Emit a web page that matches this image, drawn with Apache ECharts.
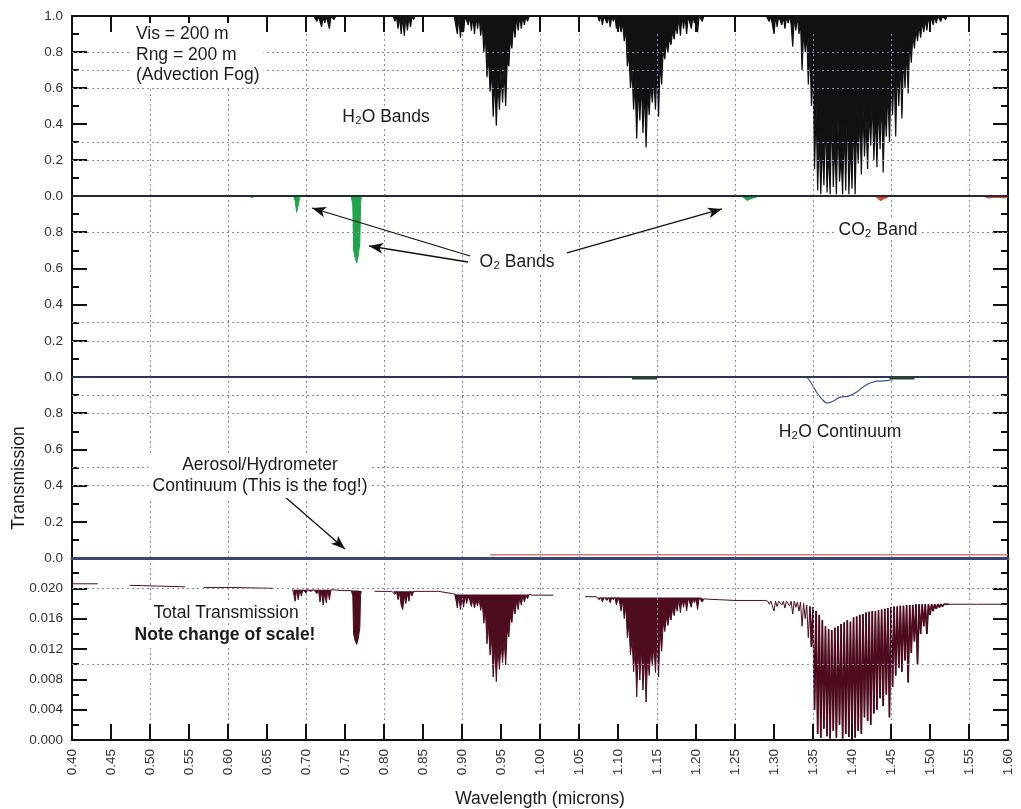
<!DOCTYPE html>
<html>
<head>
<meta charset="utf-8">
<script src="https://cdn.jsdelivr.net/npm/echarts@6/dist/echarts.min.js"></script>
<style>
  html, body { margin: 0; padding: 0; background: #fff; }
  #chart { width: 1021px; height: 809px; }
</style>
</head>
<body>
<div id="chart"></div>
<script>
// Transmission spectra, 0.40–1.60 µm. Band arrays are sampled every STEP µm from their start wavelength.
const STEP = 0.002;

// ---- Panel 1: H2O line absorption (transmission) ----
const h2oA_start = 0.710;
const h2oA = [1, 1, 0.97, 1, 1, 0.94, 1, 0.96, 1, 1, 0.93, 1, 1, 0.98, 1];
const h2oB_start = 0.812;
const h2oB = [1, 0.97, 1, 0.93, 1, 0.90, 1, 0.89, 1, 0.92, 1, 0.94, 1, 0.98, 1];
const h2oC_start = 0.890;
const h2oC = [1, 1, 0.90, 1, 0.88, 1, 0.91, 1, 1, 0.95,
  1, 0.92, 1, 0.90, 1, 0.93, 1, 0.89, 0.97, 0.80,
  0.90, 0.66, 0.78, 0.58, 0.70, 0.44, 0.66, 0.39, 0.64, 0.48,
  0.68, 0.52, 0.70, 0.50, 0.76, 0.72, 0.88, 0.82, 0.96, 0.88,
  1, 0.92, 1, 0.93, 1, 0.95, 1, 0.97, 1, 1, 1];
const h2oD_start = 1.074;
const h2oD = [1, 0.97, 1, 0.95, 1, 1, 0.96, 1, 0.94, 1,
  0.97, 1, 0.93, 1, 0.95, 0.91, 0.97, 0.86, 0.93, 0.72,
  0.80, 0.60, 0.70, 0.48, 0.64, 0.32, 0.62, 0.42, 0.64, 0.35,
  0.60, 0.27, 0.58, 0.45, 0.63, 0.52, 0.66, 0.48, 0.70, 0.44,
  0.75, 0.62, 0.82, 0.76, 0.86, 0.80, 0.88, 0.84, 0.92, 0.87,
  0.95, 0.90, 1, 0.89, 1, 0.93, 1, 0.90, 1, 1,
  0.93, 1, 0.96, 1, 0.91, 1, 1, 0.97, 1];
const h2oE_start = 1.290;
const h2oE = [1, 1, 0.97, 1, 1, 0.90, 1, 0.94, 1, 1,
  0.95, 1, 0.93, 1, 0.96, 1, 0.95, 0.83, 1, 0.92,
  1, 0.90, 0.97, 0.70, 0.92, 0.80, 0.90, 0.62, 0.82, 0.50,
  0.70, 0.15, 0.50, 0.03, 0.35, 0.01, 0.30, 0.06, 0.45, 0.02,
  0.25, 0.01, 0.48, 0.05, 0.30, 0.01, 0.42, 0.08, 0.22, 0.01,
  0.40, 0.03, 0.50, 0.01, 0.30, 0.04, 0.45, 0.01, 0.40, 0.18,
  0.46, 0.12, 0.50, 0.22, 0.42, 0.15, 0.48, 0.28, 0.54, 0.20,
  0.46, 0.16, 0.52, 0.26, 0.56, 0.13, 0.50, 0.33, 0.60, 0.30,
  0.64, 0.45, 0.70, 0.33, 0.72, 0.50, 0.76, 0.43, 0.78, 0.60,
  0.82, 0.57, 0.86, 0.74, 0.90, 0.82, 0.93, 0.86, 0.95, 0.88,
  0.97, 0.91, 0.98, 0.92, 1, 0.94, 1, 0.95, 1, 0.96,
  1, 1, 0.97, 1, 1, 0.98, 1, 1];

// ---- Panel 2: O2 bands (green) and CO2 band (red) ----
const o2A = [[0.628, 1], [0.631, 0.99], [0.634, 1]];
const o2B = [[0.684, 1], [0.686, 0.975], [0.688, 0.91], [0.690, 0.95], [0.692, 0.99], [0.694, 1]];
const o2C = [[0.758, 1], [0.760, 0.95], [0.761, 0.70], [0.763, 0.66], [0.765, 0.63], [0.767, 0.67], [0.769, 0.74], [0.770, 0.96], [0.771, 1]];
const o2D = [[1.258, 1], [1.262, 0.988], [1.266, 0.975], [1.270, 0.985], [1.274, 0.99], [1.278, 0.995], [1.280, 1]];
const co2A = [[1.430, 1], [1.434, 0.985], [1.437, 0.975], [1.440, 0.985], [1.444, 0.99], [1.447, 1]];
const co2B = [[1.568, 1], [1.575, 0.99], [1.585, 0.993], [1.595, 0.99], [1.600, 0.995]];

// ---- Panel 3: H2O continuum (blue), weak bands (dark green), aerosol/hydrometeor continuum (red) ----
const h2oCont = [[1.335, 1.0], [1.342, 0.997], [1.350, 0.95], [1.355, 0.913], [1.362, 0.875], [1.368, 0.856], [1.372, 0.86],
  [1.376, 0.867], [1.385, 0.889], [1.395, 0.893], [1.406, 0.917], [1.419, 0.959], [1.432, 0.977], [1.445, 0.98], [1.452, 0.985]];
const weakBandA = [[1.118, 0.993], [1.150, 0.993]];
const weakBandB = [[1.448, 0.993], [1.480, 0.993]];
const aerosolCont = [[0.936, 0.018], [1.600, 0.018]];

// ---- Panel 4: total transmission ----
const totFlat1 = [[0.400, 0.0206], [0.433, 0.0206]];
const totFlat2 = [[0.474, 0.0204], [0.510, 0.0203], [0.545, 0.0202]];
const totFlat3 = [[0.569, 0.0201], [0.610, 0.0201], [0.658, 0.0200]];
const totFlat4 = [[0.683, 0.0199]];
const totA_start = 0.684;
const totA = [0.0198, 0.0183, 0.0198, 0.0185, 0.0198, 0.0190, 0.0198, 0.0198, 0.0194, 0.0198,
  0.0198, 0.0196, 0.0198, 0.0198, 0.0198, 0.0193, 0.0198, 0.0182, 0.0196, 0.0178,
  0.0194, 0.0181, 0.0198, 0.0185, 0.0198, 0.0198, 0.0198];
const totFlat5 = [[0.746, 0.0197]];
const totO2 = [[0.758, 0.0197], [0.760, 0.0190], [0.761, 0.0140], [0.763, 0.0131], [0.765, 0.0126], [0.767, 0.0134],
  [0.769, 0.0148], [0.770, 0.0192], [0.771, 0.0196]];
const totFlat6 = [[0.788, 0.0196], [0.810, 0.0196]];
const totB_start = 0.812;
const totB = [0.0196, 0.0192, 0.0196, 0.0185, 0.0194, 0.0178, 0.0172, 0.0190, 0.0180, 0.0193,
  0.0183, 0.0196, 0.0190, 0.0196, 0.0196];
const totFlat7 = [[0.870, 0.0196], [0.888, 0.0193]];
const totC_start = 0.890;
const totC = [0.0192, 0.0192, 0.0174, 0.0190, 0.0172, 0.0188, 0.0175, 0.0190, 0.0180, 0.0189,
  0.0184, 0.0176, 0.0186, 0.0174, 0.0184, 0.0177, 0.0186, 0.0171, 0.0182, 0.0154,
  0.0172, 0.0127, 0.0150, 0.0112, 0.0135, 0.0083, 0.0124, 0.0077, 0.0122, 0.0093,
  0.0128, 0.0102, 0.0132, 0.0099, 0.0145, 0.0136, 0.0163, 0.0155, 0.0176, 0.0166,
  0.0184, 0.0172, 0.0188, 0.0178, 0.0190, 0.0182, 0.0191, 0.0186, 0.0192, 0.0191, 0.0191];
const totFlat8 = [[1.000, 0.0191], [1.017, 0.0191]];
const totFlat9 = [[1.058, 0.0189], [1.072, 0.0189]];
const totD_start = 1.074;
const totD = [0.0188, 0.0185, 0.0188, 0.0182, 0.0188, 0.0188, 0.0184, 0.0188, 0.0181, 0.0188,
  0.0185, 0.0188, 0.0178, 0.0188, 0.0182, 0.0170, 0.0184, 0.0160, 0.0176, 0.0135,
  0.0152, 0.0112, 0.0133, 0.0090, 0.0122, 0.0057, 0.0118, 0.0079, 0.0122, 0.0066,
  0.0114, 0.0050, 0.0110, 0.0085, 0.0120, 0.0098, 0.0125, 0.0089, 0.0132, 0.0083,
  0.0142, 0.0117, 0.0155, 0.0143, 0.0163, 0.0151, 0.0166, 0.0158, 0.0174, 0.0164,
  0.0178, 0.0170, 0.0186, 0.0168, 0.0186, 0.0175, 0.0187, 0.0170, 0.0187, 0.0187,
  0.0175, 0.0187, 0.0181, 0.0187, 0.0172, 0.0187, 0.0187, 0.0182, 0.0186];
const totFlat10 = [[1.230, 0.0185], [1.250, 0.0184], [1.288, 0.0184]];
const totE1_start = 1.290;
const totE1 = [0.0183, 0.0183, 0.0179, 0.0183, 0.0183, 0.0170, 0.0183, 0.0176, 0.0183, 0.0183,
  0.0178, 0.0183, 0.0174, 0.0183, 0.0183, 0.0177, 0.0183, 0.0166, 0.0183, 0.0175,
  0.0182, 0.0170, 0.0182, 0.0150, 0.0180, 0.0160, 0.0178, 0.0135];
const totE2_start = 1.346;
const totE2 = [0.0176, 0.0123, 0.0175, 0.0040, 0.0170, 0.0008, 0.0165, 0.0003, 0.0158, 0.0015,
  0.0150, 0.0005, 0.0146, 0.0002, 0.0145, 0.0012, 0.0148, 0.0003, 0.0150, 0.0020,
  0.0153, 0.0002, 0.0155, 0.0008, 0.0158, 0.0004, 0.0156, 0.0010, 0.0162, 0.0003,
  0.0163, 0.0012, 0.0165, 0.0008, 0.0166, 0.0030, 0.0168, 0.0025, 0.0169, 0.0020,
  0.0170, 0.0035, 0.0170, 0.0040, 0.0171, 0.0055, 0.0172, 0.0045, 0.0173, 0.0060,
  0.0174, 0.0030, 0.0175, 0.0070, 0.0176, 0.0085, 0.0176, 0.0095, 0.0177, 0.0090,
  0.0177, 0.0105, 0.0178, 0.0076, 0.0178, 0.0115, 0.0178, 0.0130, 0.0179, 0.0100,
  0.0179, 0.0140, 0.0179, 0.0150, 0.0179, 0.0140, 0.0179, 0.0165, 0.0179, 0.0170,
  0.0179, 0.0173, 0.0179, 0.0175, 0.0179, 0.0176, 0.0179, 0.0178, 0.0179, 0.0179];
const totFlat11 = [[1.560, 0.0179], [1.600, 0.0179]];
const totGaps = [0.450, 0.557, 0.670, 0.780, 1.030];

// ---- Axis ticks and reference grid lines ----
const xTickStep = 0.05;
const vGrid = [0.50, 0.60, 0.70, 0.80, 0.90, 1.00, 1.05, 1.15, 1.25, 1.35, 1.45, 1.55];
const hGrid1 = [0.2, 0.3, 0.6, 0.7, 0.8];
const hGrid2 = [0.2, 0.3, 0.8];
const hGrid3 = [0.4, 0.5, 0.8, 0.9];
const hGrid4 = [0.004, 0.008, 0.012, 0.016, 0.020];

// ---- helpers ----
const sampled = (start, vals) => vals.map((v, i) => [Math.round((start + i * STEP) * 1000) / 1000, v]);
const gap = x => [x, null];
const join = (...parts) => parts.reduce((acc, p, i) => i ? acc.concat([gap((acc[acc.length - 1][0] + p[0][0]) / 2)], p) : acc.concat(p), []);

const h2oData = [[0.40, 1]].concat(
  sampled(h2oA_start, h2oA), sampled(h2oB_start, h2oB), sampled(h2oC_start, h2oC),
  sampled(h2oD_start, h2oD), sampled(h2oE_start, h2oE), [[1.60, 1]]);

const o2Data = join(o2A, o2B, o2C, o2D);
const co2Data = join(co2A, co2B);
const weakData = join(weakBandA, weakBandB);

const totE2Data = sampled(totE2_start, totE2);

const totalData = [].concat(
  totFlat1, [gap(totGaps[0])], totFlat2, [gap(totGaps[1])], totFlat3, [gap(totGaps[2])],
  totFlat4, sampled(totA_start, totA), totFlat5, totO2, [gap(totGaps[3])],
  totFlat6, sampled(totB_start, totB), totFlat7, sampled(totC_start, totC), totFlat8, [gap(totGaps[4])],
  totFlat9, sampled(totD_start, totD), totFlat10, sampled(totE1_start, totE1), totE2Data, totFlat11);

// ---- styling ----
const FONT = '"Liberation Sans", Arial, sans-serif';
const X_MIN = 0.4, X_MAX = 1.6;
const gridBox = [
  { left: 72, right: 13, top: 16, height: 180 },
  { left: 72, right: 13, top: 196, height: 181 },
  { left: 72, right: 13, top: 377, height: 181 },
  { left: 72, right: 13, top: 558, height: 182 }
];

function xAxisFor(gridIndex, opts) {
  return Object.assign({
    type: 'value', gridIndex, min: X_MIN, max: X_MAX, interval: xTickStep,
    position: 'bottom', z: 5,
    axisLine: { show: true, onZero: false, lineStyle: { color: '#111', width: 2 } },
    axisTick: { show: false }, axisLabel: { show: false }, splitLine: { show: false }
  }, opts);
}

function yAxisPair(gridIndex, max, interval, digits, showMax) {
  const common = {
    type: 'value', gridIndex, min: 0, max, interval,
    axisLine: { show: true, onZero: false, lineStyle: { color: '#111', width: 2 } },
    axisTick: { show: true, inside: true, length: 15, lineStyle: { color: '#111', width: 2 } },
    minorTick: { show: true, splitNumber: 2, length: 7, lineStyle: { color: '#111', width: 2 } },
    splitLine: { show: false }
  };
  return [
    Object.assign({}, common, {
      position: 'left',
      axisLabel: {
        show: true, margin: 9, color: '#333', fontSize: 13.5, fontFamily: FONT,
        showMaxLabel: showMax, formatter: v => v.toFixed(digits)
      }
    }),
    Object.assign({}, common, { position: 'right', axisLabel: { show: false } })
  ];
}

function gridLines(xi, yi, hGrid) {
  return {
    type: 'line', xAxisIndex: xi, yAxisIndex: yi, data: [], silent: true, z: 1,
    markLine: {
      silent: true, symbol: 'none', animation: false, label: { show: false },
      lineStyle: { type: [2, 3], color: '#8484c2', width: 1 },
      data: vGrid.map(v => ({ xAxis: v })).concat(hGrid.map(v => ({ yAxis: v })))
    }
  };
}

function arrowSeries(xi, yi, arrows) {
  return {
    type: 'line', xAxisIndex: xi, yAxisIndex: yi, data: [], silent: true, z: 6,
    markLine: {
      silent: true, animation: false, label: { show: false }, symbolSize: [8, 14],
      lineStyle: { type: 'solid', color: '#111', width: 1.3 },
      data: arrows.map(a => [{ coord: a[0], symbol: 'none' }, { coord: a[1], symbol: 'arrow' }])
    }
  };
}

const o2Arrows = [
  [[0.9103, 0.6685], [0.7077, 0.9337]],
  [[0.9077, 0.6354], [0.7808, 0.7238]],
  [[1.0346, 0.6851], [1.2333, 0.9282]]
];
const fogArrow = [[[0.6718, 0.3425], [0.7500, 0.0497]]];

const MAROON = '#4e0c1f';
function totArea(data, origin) {
  return {
    type: 'line', xAxisIndex: 4, yAxisIndex: 6, data, symbol: 'none', silent: true, z: 2,
    lineStyle: { width: 0 }, areaStyle: { color: MAROON, opacity: 1, origin }
  };
}

const yAxes = [].concat(
  yAxisPair(0, 1, 0.2, 1, true),
  yAxisPair(1, 1, 0.2, 1, false),
  yAxisPair(2, 1, 0.2, 1, false),
  yAxisPair(3, 0.024, 0.004, 3, false)
);

function label(x, y, text, extra) {
  return {
    type: 'text', x, y, z: 20, silent: true,
    style: Object.assign({
      text, fill: '#1a1a1a', font: '17.5px ' + FONT, align: 'center', verticalAlign: 'middle',
      backgroundColor: '#fff', padding: [1, 4, 1, 4]
    }, extra || {})
  };
}

const option = {
  animation: false,
  backgroundColor: '#fff',
  grid: gridBox,
  xAxis: [
    xAxisFor(0, { axisLine: { show: true, onZero: false, lineStyle: { color: '#242a36', width: 2 } } }),
    xAxisFor(0, {
      position: 'top',
      axisTick: { show: true, inside: true, length: 16, lineStyle: { color: '#111', width: 2 } }
    }),
    xAxisFor(1, { axisLine: { show: true, onZero: false, lineStyle: { color: '#2a3656', width: 2 } } }),
    xAxisFor(2, { axisLine: { show: true, onZero: false, lineStyle: { color: '#3a4870', width: 3 } } }),
    xAxisFor(3, {
      axisTick: { show: true, inside: true, length: 16, lineStyle: { color: '#111', width: 2 } },
      axisLabel: {
        show: true, rotate: 90, margin: 9, color: '#333', fontSize: 13.5, fontFamily: FONT,
        formatter: v => v.toFixed(2)
      },
      name: 'Wavelength (microns)', nameLocation: 'middle', nameGap: 50,
      nameTextStyle: { fontSize: 17.5, fontFamily: FONT, color: '#1a1a1a' }
    })
  ],
  yAxis: yAxes,
  series: [
    gridLines(0, 0, hGrid1),
    gridLines(2, 2, hGrid2),
    gridLines(3, 4, hGrid3),
    gridLines(4, 6, hGrid4),

    // H2O line absorption
    {
      name: 'H2O Bands', type: 'line', xAxisIndex: 0, yAxisIndex: 0, data: h2oData,
      symbol: 'none', silent: true, z: 2,
      lineStyle: { color: '#111', width: 1.2 },
      areaStyle: { color: '#111', opacity: 1, origin: 'end' }
    },
    // O2 and CO2 bands
    {
      name: 'O2 Bands', type: 'line', xAxisIndex: 2, yAxisIndex: 2, data: o2Data,
      symbol: 'none', silent: true, z: 2,
      lineStyle: { color: '#1fa44a', width: 1 },
      areaStyle: { color: '#1fa44a', opacity: 1, origin: 'end' }
    },
    {
      name: 'CO2 Band', type: 'line', xAxisIndex: 2, yAxisIndex: 2, data: co2Data,
      symbol: 'none', silent: true, z: 2,
      lineStyle: { color: '#e0482a', width: 1.2 },
      areaStyle: { color: '#e0482a', opacity: 1, origin: 'end' }
    },
    // continua
    {
      name: 'H2O Continuum', type: 'line', xAxisIndex: 3, yAxisIndex: 4, data: h2oCont,
      symbol: 'none', silent: true, smooth: 0.3, z: 2,
      lineStyle: { color: '#3b4fa0', width: 1.2 }
    },
    {
      name: 'Weak bands', type: 'line', xAxisIndex: 3, yAxisIndex: 4, data: weakData,
      symbol: 'none', silent: true, z: 6,
      lineStyle: { color: '#23462c', width: 2.5 }
    },
    {
      name: 'Aerosol/Hydrometer Continuum', type: 'line', xAxisIndex: 3, yAxisIndex: 4, data: aerosolCont,
      symbol: 'none', silent: true, z: 2,
      lineStyle: { color: '#d97a7a', width: 1.6 }
    },
    // total transmission: filled band cores, the dense 1.38 µm band, then the full line
    totArea(sampled(totA_start, totA), 0.0198),
    totArea(totO2, 0.0197),
    totArea(sampled(totB_start, totB), 0.0196),
    totArea(sampled(totC_start, totC), 0.0192),
    totArea(sampled(totD_start, totD), 0.0188),
    {
      name: 'Total 1.38 µm band', type: 'line', xAxisIndex: 4, yAxisIndex: 6, data: totE2Data,
      symbol: 'none', silent: true, z: 3,
      lineStyle: { color: MAROON, width: 1.7 }
    },
    {
      name: 'Total Transmission', type: 'line', xAxisIndex: 4, yAxisIndex: 6, data: totalData,
      symbol: 'none', silent: true, z: 3, connectNulls: false,
      lineStyle: { color: MAROON, width: 1 }
    },

    arrowSeries(2, 2, o2Arrows),
    arrowSeries(3, 4, fogArrow)
  ],
  graphic: {
    elements: [
      label(132, 23, 'Vis = 200 m\nRng = 200 m\n(Advection Fog)', { align: 'left', verticalAlign: 'top', lineHeight: 20.5 }),
      label(386, 117, 'H₂O Bands'),
      label(517, 262, 'O₂ Bands'),
      label(878, 230, 'CO₂ Band'),
      label(840, 432, 'H₂O Continuum'),
      label(260, 476, 'Aerosol/Hydrometer\nContinuum (This is the fog!)', { lineHeight: 21 }),
      label(226, 613, 'Total Transmission'),
      label(225, 635, 'Note change of scale!', { font: 'bold 17.5px ' + FONT }),
      {
        type: 'text', x: 19, y: 478, rotation: Math.PI / 2, z: 20, silent: true,
        style: { text: 'Transmission', fill: '#1a1a1a', font: '17.5px ' + FONT, align: 'center', verticalAlign: 'middle' }
      }
    ]
  }
};

const chart = echarts.init(document.getElementById('chart'), null, { renderer: 'canvas' });
chart.setOption(option);
</script>
</body>
</html>
